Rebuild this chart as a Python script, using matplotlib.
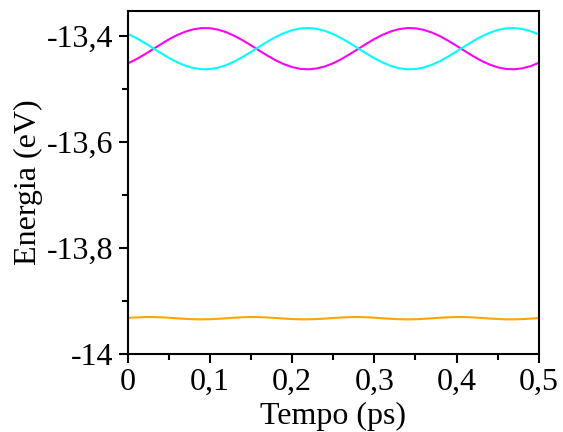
import matplotlib
matplotlib.use("Agg")
import matplotlib.pyplot as plt
from matplotlib.ticker import FuncFormatter, MultipleLocator

tempo = [0.00, 0.01, 0.02, 0.03, 0.04, 0.05, 0.06, 0.07, 0.08, 0.09,
         0.10, 0.11, 0.12, 0.13, 0.14, 0.15, 0.16, 0.17, 0.18, 0.19,
         0.20, 0.21, 0.22, 0.23, 0.24, 0.25, 0.26, 0.27, 0.28, 0.29,
         0.30, 0.31, 0.32, 0.33, 0.34, 0.35, 0.36, 0.37, 0.38, 0.39,
         0.40, 0.41, 0.42, 0.43, 0.44, 0.45, 0.46, 0.47, 0.48, 0.49, 0.50]

energia_magenta = [-13.4522, -13.4445, -13.4356, -13.4259, -13.4162, -13.4068, -13.3986, -13.3921, -13.3875, -13.3852,
                   -13.3854, -13.3881, -13.3930, -13.3999, -13.4083, -13.4177, -13.4275, -13.4371, -13.4459, -13.4532,
                   -13.4587, -13.4621, -13.4630, -13.4614, -13.4575, -13.4515, -13.4437, -13.4346, -13.4249, -13.4151,
                   -13.4059, -13.3979, -13.3915, -13.3871, -13.3851, -13.3856, -13.3885, -13.3936, -13.4006, -13.4092,
                   -13.4187, -13.4285, -13.4380, -13.4467, -13.4539, -13.4592, -13.4623, -13.4629, -13.4611, -13.4570, -13.4508]

energia_ciano = [-13.3958, -13.4035, -13.4124, -13.4221, -13.4318, -13.4412, -13.4494, -13.4559, -13.4605, -13.4628,
                 -13.4626, -13.4599, -13.4550, -13.4481, -13.4397, -13.4303, -13.4205, -13.4109, -13.4021, -13.3948,
                 -13.3893, -13.3859, -13.3850, -13.3866, -13.3905, -13.3965, -13.4043, -13.4134, -13.4231, -13.4329,
                 -13.4421, -13.4501, -13.4565, -13.4609, -13.4629, -13.4624, -13.4595, -13.4544, -13.4474, -13.4388,
                 -13.4293, -13.4195, -13.4100, -13.4013, -13.3941, -13.3888, -13.3857, -13.3851, -13.3869, -13.3910, -13.3972]

energia_laranja = [-13.9320, -13.9311, -13.9304, -13.9303, -13.9308, -13.9316, -13.9327, -13.9337, -13.9344, -13.9347,
                   -13.9344, -13.9337, -13.9326, -13.9315, -13.9307, -13.9303, -13.9305, -13.9311, -13.9321, -13.9332,
                   -13.9341, -13.9346, -13.9346, -13.9341, -13.9332, -13.9321, -13.9311, -13.9305, -13.9303, -13.9307,
                   -13.9315, -13.9326, -13.9336, -13.9344, -13.9347, -13.9345, -13.9337, -13.9327, -13.9316, -13.9308,
                   -13.9303, -13.9304, -13.9310, -13.9320, -13.9331, -13.9340, -13.9346, -13.9347, -13.9342, -13.9333, -13.9322]

plt.rcParams['font.family'] = ['Liberation Serif', 'DejaVu Serif']

fig = plt.figure(figsize=(5.63, 4.32), dpi=100)
ax = fig.add_axes([0.2265, 0.1806, 0.7305, 0.7939])

ax.plot(tempo, energia_magenta, color='#FF00FF', lw=1.5)
ax.plot(tempo, energia_ciano, color='#00FFFF', lw=1.5)
ax.plot(tempo, energia_laranja, color='#FFA500', lw=1.5)

ax.set_xlim(0, 0.5)
ax.set_ylim(-14, -13.353)

ax.xaxis.set_major_locator(MultipleLocator(0.1))
ax.xaxis.set_minor_locator(MultipleLocator(0.05))
ax.yaxis.set_major_locator(MultipleLocator(0.2))
ax.yaxis.set_minor_locator(MultipleLocator(0.1))

def fmt(v, pos):
    s = f"{v:.1f}"
    if s.endswith(".0"):
        s = s[:-2]
    return s.replace('.', ',').replace('\u2212', '-')

ax.xaxis.set_major_formatter(FuncFormatter(fmt))
ax.yaxis.set_major_formatter(FuncFormatter(fmt))

for sp in ax.spines.values():
    sp.set_linewidth(1.5)

ax.tick_params(which='major', direction='out', length=6.3, width=1.5, labelsize=23)
ax.tick_params(axis='y', which='major', pad=4)
ax.tick_params(axis='x', which='major', pad=4)
ax.tick_params(which='minor', direction='out', length=4, width=1.5)
ax.tick_params(top=False, right=False, which='both')

ax.set_xlabel('Tempo (ps)', fontsize=23, labelpad=3)
ax.set_ylabel('Energia (eV)', fontsize=23, labelpad=3)

fig.savefig('out.png', dpi=100)
